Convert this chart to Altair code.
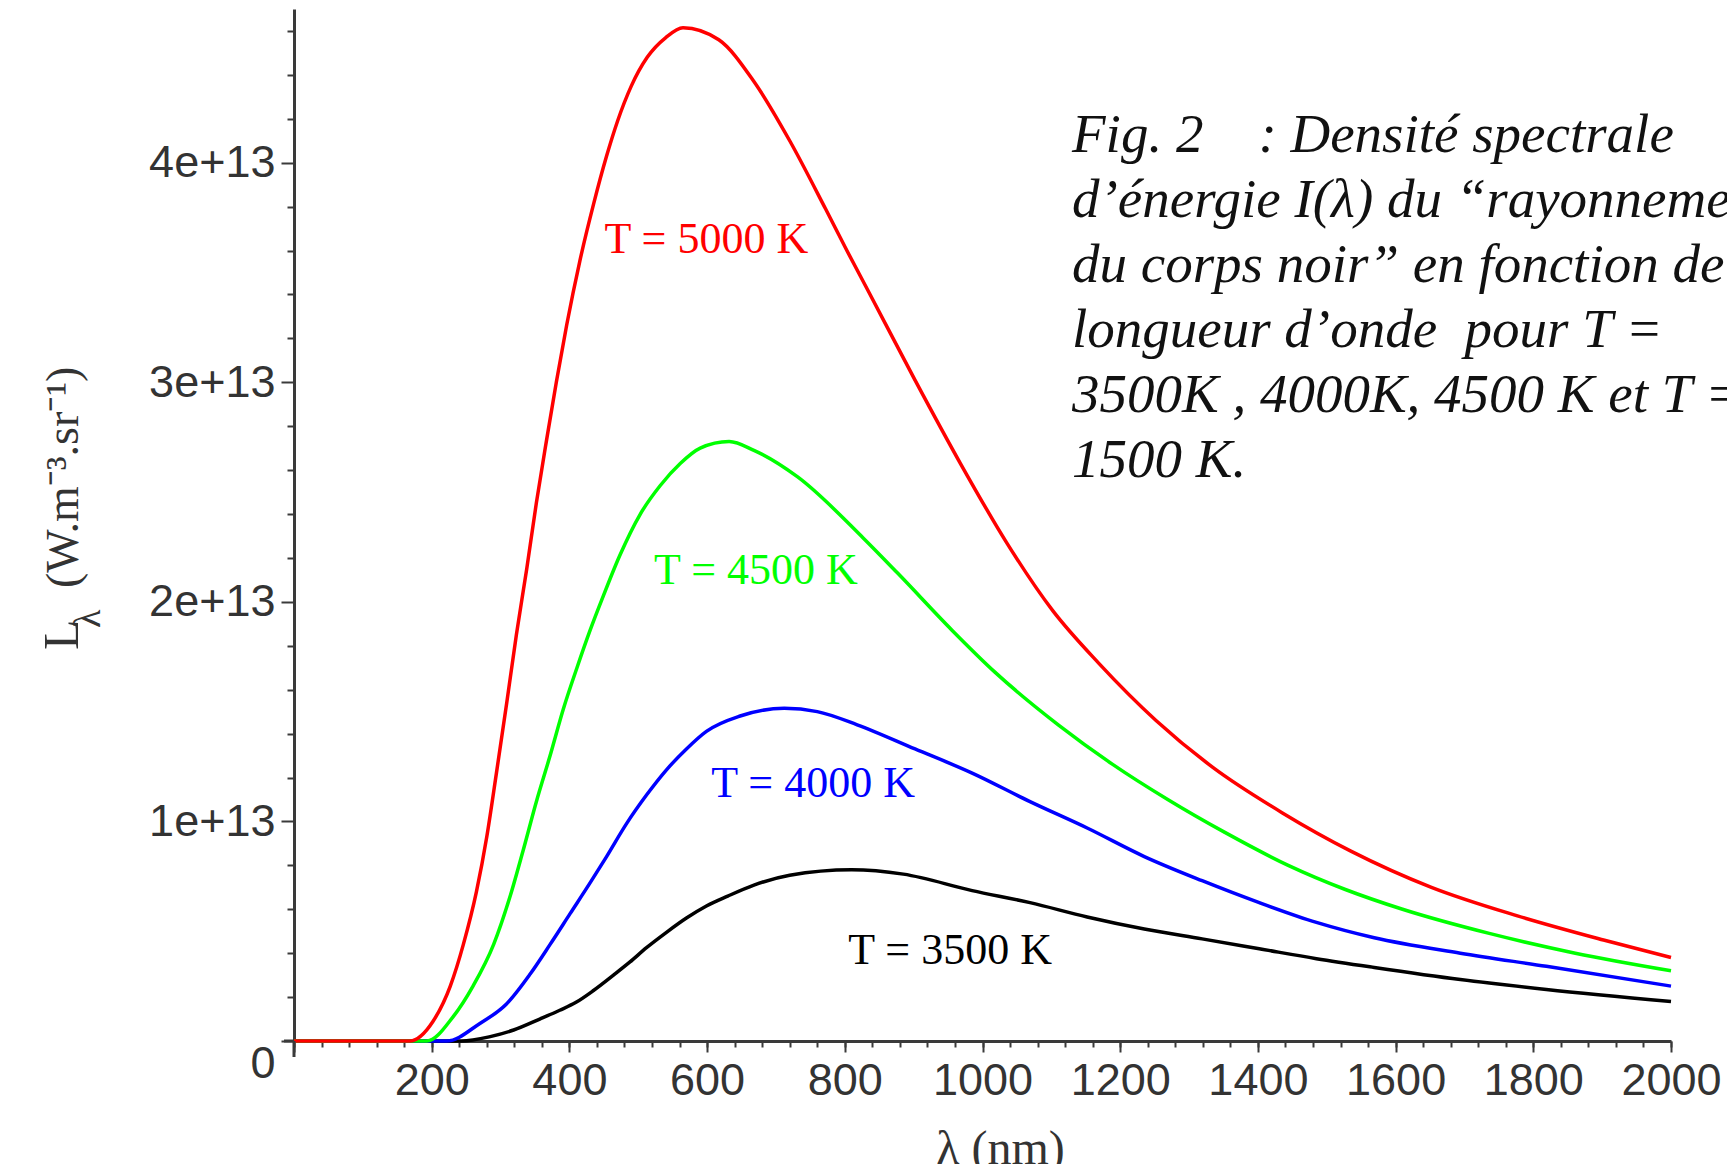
import altair as alt
import pandas as pd

# ---------------- values ----------------
# wavelength (nm) and spectral radiance (units of 1e13 W.m^-3.sr^-1)
wl_5000 = [0, 168, 202, 227, 246, 265, 280, 294, 309, 323, 338, 352, 367, 381, 396, 415, 435, 454,
           470, 490, 513, 540, 565, 617, 668, 720, 772, 803, 835, 902, 968, 1035, 1102, 1169, 1252,
           1335, 1435, 1535, 1652, 1777, 1902, 2000]
L_5000 = [0, 0, 0.09, 0.25, 0.44, 0.68, 0.93, 1.22, 1.54, 1.85, 2.15, 2.45, 2.74, 3.00, 3.26, 3.55,
          3.81, 4.03, 4.19, 4.35, 4.48, 4.57, 4.615, 4.56, 4.37, 4.10, 3.79, 3.60, 3.41, 3.01, 2.63,
          2.27, 1.96, 1.72, 1.46, 1.245, 1.04, 0.865, 0.70, 0.57, 0.46, 0.38]

wl_4500 = [0, 193, 231, 260, 290, 314, 333, 352, 372, 391, 411, 430, 449, 473, 503, 532, 561, 590,
           632, 668, 731, 827, 877, 956, 1018, 1110, 1189, 1269, 1352, 1444, 1527, 1610, 1736, 1861,
           2000]
L_4500 = [0, 0, 0.11, 0.25, 0.44, 0.66, 0.87, 1.09, 1.30, 1.51, 1.70, 1.87, 2.025, 2.21, 2.40, 2.53,
          2.63, 2.70, 2.73, 2.69, 2.57, 2.29, 2.13, 1.87, 1.68, 1.44, 1.26, 1.10, 0.95, 0.80, 0.69,
          0.60, 0.49, 0.40, 0.32]

wl_4000 = [0, 222, 270, 309, 343, 372, 401, 430, 454, 483, 512, 541, 570, 599, 648, 712, 760, 818,
           902, 985, 1069, 1152, 1235, 1319, 1402, 1485, 1569, 1694, 1819, 2000]
L_4000 = [0, 0, 0.08, 0.17, 0.305, 0.44, 0.58, 0.72, 0.84, 0.99, 1.12, 1.235, 1.33, 1.41, 1.48, 1.515,
          1.50, 1.44, 1.33, 1.22, 1.09, 0.97, 0.84, 0.73, 0.63, 0.54, 0.47, 0.40, 0.34, 0.25]

wl_3500 = [0, 243, 285, 319, 357, 386, 409, 435, 464, 488, 512, 541, 570, 599, 630, 668, 720, 810,
           885, 985, 1069, 1152, 1235, 1319, 1402, 1485, 1569, 1694, 1819, 2000]
L_3500 = [0, 0, 0.02, 0.05, 0.10, 0.14, 0.175, 0.23, 0.30, 0.36, 0.425, 0.495, 0.56, 0.615, 0.66,
          0.71, 0.755, 0.78, 0.76, 0.685, 0.63, 0.565, 0.51, 0.465, 0.42, 0.375, 0.335, 0.28, 0.235,
          0.18]

series_names = ["T = 3500 K", "T = 4000 K", "T = 4500 K", "T = 5000 K"]
series_colors = ["#000000", "#0000ff", "#00ff00", "#ff0000"]

# curve labels (position in data units)
label_wl = [805, 606, 523, 451]
label_L = [0.41, 1.17, 2.14, 3.65]
label_colors = ["#1a1a1a", "#0000ff", "#00ee00", "#ff0000"]

x_major = list(range(0, 2001, 200))
x_minor = list(range(0, 2001, 40))
y_ticks = [i * 2e12 for i in range(24)]

caption = ["Fig. 2\u00a0\u00a0\u00a0\u00a0: Densité spectrale",
           "d’énergie I(λ) du “rayonnement",
           "du corps noir” en fonction de la",
           "longueur d’onde\u00a0 pour T =",
           "3500K , 4000K, 4500 K et T =",
           "1500 K."]
caption_wl = 1130
caption_L = 4.05

# ---------------- tables ----------------
rows = []
for name, wl, L in zip(series_names, [wl_3500, wl_4000, wl_4500, wl_5000],
                       [L_3500, L_4000, L_4500, L_5000]):
    for w, v in zip(wl, L):
        rows.append({"serie": name, "wl": w, "L": v * 1e13})
df = pd.DataFrame(rows)

lab = pd.DataFrame({"serie": series_names, "wl": label_wl,
                    "L": [v * 1e13 for v in label_L]})
cap = pd.DataFrame({"t": ["\n".join(caption)], "wl": [caption_wl], "L": [caption_L * 1e13]})

W, H = 1377, 1032
AX = "#3a3a3a"

xscale = alt.Scale(domain=[0, 2000], nice=False, zero=False)
yscale = alt.Scale(domain=[0, 4.7e13], nice=False, zero=False)

xaxis = alt.Axis(
    orient="bottom", values=x_major, format="d",
    labelExpr="datum.value > 0 ? datum.label : ''",
    labelOverlap=False, labelFlush=False, grid=False,
    tickSize=11, tickColor=AX, tickWidth=2,
    domainColor=AX, domainWidth=3,
    labelFont="Liberation Sans", labelFontSize=45, labelColor="#333333", labelPadding=6,
    title="λ (nm)", titleFont="Liberation Serif", titleFontSize=48, titleFontWeight="normal",
    titleColor="#333333", titleX=706, titleY=122, titleBaseline="alphabetic",
)
xaxis_minor = alt.Axis(
    orient="bottom", values=x_minor, labels=False, domain=False, grid=False,
    tickSize=6, tickColor=AX, tickWidth=2, title=None,
)
yaxis = alt.Axis(
    values=y_ticks,
    labelExpr="datum.value == 0 ? '0' : (datum.value % 1e13 == 0 ? (datum.value / 1e13) + 'e+13' : '')",
    labelOverlap=False, labelFlush=False, grid=False,
    tickSize={"condition": {"test": "datum.value % 1e13 == 0", "value": 13}, "value": 7},
    tickColor=AX, tickWidth=2,
    domainColor=AX, domainWidth=3,
    labelFont="Liberation Sans", labelFontSize=45, labelColor="#333333", labelPadding=6,
    labelBaseline={"condition": {"test": "datum.value == 0", "value": "top"}, "value": "middle"},
    title=None,
)

color = alt.Color("serie:N", scale=alt.Scale(domain=series_names, range=series_colors), legend=None)

lines = alt.Chart(df).mark_line(strokeWidth=3.5, interpolate="monotone").encode(
    x=alt.X("wl:Q", scale=xscale, axis=xaxis),
    y=alt.Y("L:Q", scale=yscale, axis=yaxis),
    color=color,
)

labels = alt.Chart(lab).mark_text(
    font="Liberation Serif", fontSize=44, align="left", baseline="middle"
).encode(
    x=alt.X("wl:Q", scale=xscale, axis=xaxis_minor),
    y=alt.Y("L:Q", scale=yscale, axis=yaxis),
    text="serie:N",
    color=alt.Color("serie:N", scale=alt.Scale(domain=series_names, range=label_colors), legend=None),
)

caption_mark = alt.Chart(cap).mark_text(
    font="Liberation Serif", fontStyle="italic", fontSize=55, align="left",
    baseline="alphabetic", lineHeight=65, color="#111111", lineBreak="\n"
).encode(
    x=alt.X("wl:Q", scale=xscale, axis=None),
    y=alt.Y("L:Q", scale=yscale, axis=yaxis),
    text="t:N",
)

# y-axis title pieces (rotated)
def ytitle(txt, px, py, size):
    return alt.Chart(pd.DataFrame({"t": [txt]})).mark_text(
        font="Liberation Serif", fontSize=size, angle=270, align="left",
        baseline="alphabetic", color="#333333"
    ).encode(text="t:N", x=alt.value(px), y=alt.value(py))

yt1 = ytitle("L", 78 - 294, 650 - 9, 50)
yt2 = ytitle("λ", 100 - 294, 628 - 9, 38)
yt3 = ytitle("(W.m⁻³.sr⁻¹)", 78 - 294, 588 - 9, 46)

# small axis extensions past the origin
ext = pd.DataFrame({"k": [0]})
ext_x = alt.Chart(ext).mark_rule(color=AX, strokeWidth=3).encode(
    x=alt.value(-10), x2=alt.value(0), y=alt.value(H))
ext_y = alt.Chart(ext).mark_rule(color=AX, strokeWidth=3).encode(
    x=alt.value(0), y=alt.value(H), y2=alt.value(H + 16))

chart = alt.layer(lines, labels, caption_mark, yt1, yt2, yt3, ext_x, ext_y).resolve_scale(
    x="shared", y="shared"
).resolve_axis(x="independent", y="shared").properties(
    width=W, height=H,
    padding={"left": 286, "top": 1, "right": 56, "bottom": 123},
    autosize=alt.AutoSizeParams(type="none"),
    background="white",
).configure_view(stroke=None)

chart.save("out.html", embed_options={"renderer": "svg", "actions": False})
